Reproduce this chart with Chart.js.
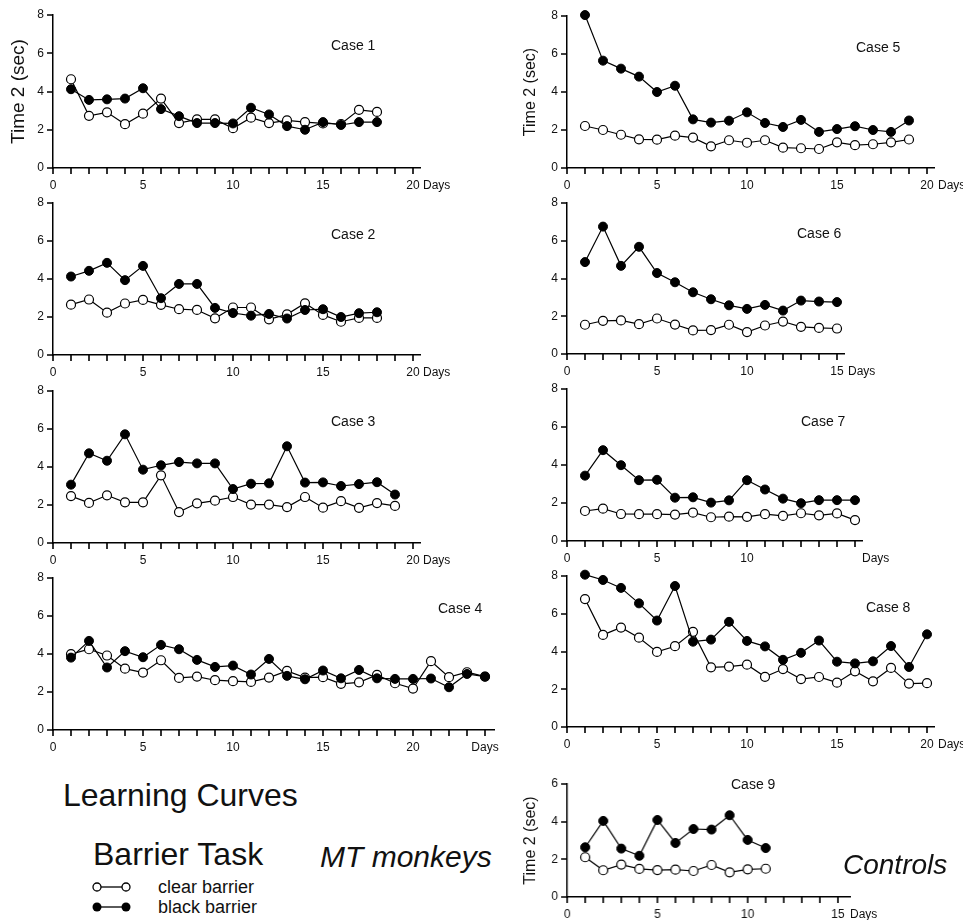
<!DOCTYPE html>
<html>
<head>
<meta charset="utf-8">
<script src="https://cdn.jsdelivr.net/npm/chart.js@4.4.0/dist/chart.umd.min.js"></script>
<style>
  body { margin: 0; background: #fff; width: 963px; height: 920px; position: relative; overflow: hidden;
         font-family: "Liberation Sans", Arial, sans-serif; color: #111; }
  .panel { position: absolute; }
  .txt { position: absolute; line-height: 1; white-space: nowrap; }
  .case { font-size: 14px; }
  .days { font-size: 12px; }
</style>
</head>
<body>

<div class="txt case" style="left:331px;top:38px">Case 1</div>
<div class="txt case" style="left:331px;top:227px">Case 2</div>
<div class="txt case" style="left:331px;top:414px">Case 3</div>
<div class="txt case" style="left:438px;top:601px">Case 4</div>
<div class="txt case" style="left:856px;top:40px">Case 5</div>
<div class="txt case" style="left:797px;top:226px">Case 6</div>
<div class="txt case" style="left:801px;top:414px">Case 7</div>
<div class="txt case" style="left:866px;top:600px">Case 8</div>
<div class="txt case" style="left:731px;top:777px">Case 9</div>

<div class="txt days" style="left:423px;top:179px">Days</div>
<div class="txt days" style="left:423px;top:366px">Days</div>
<div class="txt days" style="left:423px;top:554px">Days</div>
<div class="txt days" style="left:938px;top:179px">Days</div>
<div class="txt days" style="left:848px;top:365px">Days</div>
<div class="txt days" style="left:862px;top:552px">Days</div>
<div class="txt days" style="left:938px;top:738px">Days</div>
<div class="txt days" style="left:850px;top:908px">Days</div>

<div class="txt" style="left:63px;top:779px;font-size:32px">Learning Curves</div>
<div class="txt" style="left:93px;top:838px;font-size:32px">Barrier Task</div>
<div class="txt" style="left:320px;top:842px;font-size:30px;font-style:italic">MT monkeys</div>
<div class="txt" style="left:843px;top:851px;font-size:28px;font-style:italic">Controls</div>
<div class="txt" style="left:158px;top:878px;font-size:18px">clear barrier</div>
<div class="txt" style="left:158px;top:898px;font-size:18px">black barrier</div>

<svg style="position:absolute;left:88px;top:878px" width="46" height="38">
  <line x1="9" y1="9" x2="38" y2="9" stroke="#000" stroke-width="1.3"/>
  <circle cx="9" cy="9" r="4" fill="#fff" stroke="#000" stroke-width="1.3"/>
  <circle cx="38" cy="9" r="4" fill="#fff" stroke="#000" stroke-width="1.3"/>
  <line x1="9" y1="29" x2="38" y2="29" stroke="#000" stroke-width="1.3"/>
  <circle cx="9" cy="29" r="4.5" fill="#000"/>
  <circle cx="38" cy="29" r="4.5" fill="#000"/>
</svg>

<script>
// ── Data (Time 2 in seconds, per day) ──
var days = [1, 2, 3, 4, 5, 6, 7, 8, 9, 10, 11, 12, 13, 14, 15, 16, 17, 18, 19, 20, 21, 22, 23, 24];

var case1Clear = [4.64, 2.73, 2.91, 2.29, 2.84, 3.63, 2.35, 2.54, 2.54, 2.08, 2.63, 2.35, 2.49, 2.40, 2.33, 2.30, 3.04, 2.93];
var case1Black = [4.12, 3.56, 3.59, 3.63, 4.17, 3.08, 2.71, 2.35, 2.35, 2.33, 3.15, 2.80, 2.19, 2.00, 2.40, 2.25, 2.40, 2.40];

var case2Clear = [2.65, 2.92, 2.23, 2.71, 2.90, 2.64, 2.41, 2.37, 1.93, 2.50, 2.50, 1.88, 2.14, 2.72, 2.11, 1.75, 1.95, 1.95];
var case2Black = [4.13, 4.43, 4.85, 3.94, 4.69, 2.99, 3.74, 3.74, 2.48, 2.21, 2.07, 2.16, 1.92, 2.37, 2.41, 2.00, 2.20, 2.25];

var case3Clear = [2.47, 2.11, 2.51, 2.14, 2.14, 3.56, 1.63, 2.09, 2.23, 2.42, 2.02, 2.02, 1.89, 2.42, 1.86, 2.20, 1.85, 2.10, 1.95];
var case3Black = [3.07, 4.72, 4.33, 5.72, 3.86, 4.09, 4.26, 4.19, 4.19, 2.84, 3.12, 3.14, 5.09, 3.18, 3.19, 3.00, 3.10, 3.20, 2.55];

var case4Clear = [3.99, 4.25, 3.92, 3.23, 3.02, 3.67, 2.74, 2.81, 2.62, 2.57, 2.53, 2.76, 3.11, 2.76, 2.78, 2.43, 2.51, 2.90, 2.46, 2.18, 3.62, 2.78, 3.04, 2.81];
var case4Black = [3.81, 4.69, 3.29, 4.15, 3.83, 4.48, 4.25, 3.69, 3.32, 3.39, 2.92, 3.74, 2.85, 2.67, 3.13, 2.72, 3.16, 2.72, 2.69, 2.69, 2.71, 2.25, 2.95, 2.81];

var case5Clear = [2.21, 2.00, 1.75, 1.51, 1.49, 1.70, 1.60, 1.14, 1.46, 1.33, 1.46, 1.07, 1.04, 1.00, 1.35, 1.20, 1.25, 1.35, 1.50];
var case5Black = [8.05, 5.65, 5.23, 4.81, 4.00, 4.33, 2.56, 2.39, 2.49, 2.93, 2.37, 2.16, 2.53, 1.90, 2.05, 2.20, 2.00, 1.90, 2.50];

var case6Clear = [1.55, 1.76, 1.78, 1.58, 1.88, 1.56, 1.25, 1.27, 1.55, 1.16, 1.51, 1.72, 1.44, 1.38, 1.35];
var case6Black = [4.87, 6.75, 4.67, 5.68, 4.29, 3.80, 3.27, 2.90, 2.58, 2.39, 2.60, 2.30, 2.83, 2.78, 2.75];

var case7Clear = [1.58, 1.70, 1.42, 1.41, 1.41, 1.39, 1.49, 1.25, 1.28, 1.27, 1.41, 1.32, 1.46, 1.35, 1.45, 1.10];
var case7Black = [3.44, 4.78, 3.99, 3.20, 3.22, 2.28, 2.30, 2.02, 2.14, 3.20, 2.71, 2.23, 1.99, 2.15, 2.15, 2.15];

var case8Clear = [6.78, 4.88, 5.27, 4.73, 3.98, 4.28, 5.04, 3.16, 3.20, 3.30, 2.66, 3.07, 2.54, 2.65, 2.35, 2.95, 2.42, 3.13, 2.30, 2.32];
var case8Black = [8.07, 7.79, 7.37, 6.55, 5.64, 7.47, 4.52, 4.63, 5.57, 4.56, 4.27, 3.56, 3.93, 4.58, 3.46, 3.37, 3.48, 4.29, 3.18, 4.91];

var case9Clear = [2.11, 1.42, 1.72, 1.49, 1.43, 1.45, 1.38, 1.70, 1.31, 1.47, 1.50];
var case9Black = [2.64, 4.04, 2.57, 2.19, 4.09, 2.87, 3.61, 3.58, 4.34, 3.03, 2.60];

var yTitle = 'Time 2 (sec)';

// ── Layout ──
var FONT = '"Liberation Sans", Arial, sans-serif';
var AXIS_W = 50, PAD_TOP = 17, PAD_RIGHT = 30, X_H = 30, PX_DAY = 18, TICK_LEN = 6;

function _pts(vals) {
  return vals.map(function(v, i) { return { x: days[i], y: v }; });
}

// outward tick marks at every tick the scales generate
var tickMarks = {
  id: 'tickMarks',
  afterDraw: function(chart) {
    var ctx = chart.ctx, xs = chart.scales.x, ys = chart.scales.y;
    var bottom = chart.chartArea.bottom, left = chart.chartArea.left;
    ctx.save();
    ctx.strokeStyle = '#000';
    ctx.lineWidth = 1.6;
    ctx.beginPath();
    for (var i = 0; i < xs.ticks.length; i++) {
      var px = Math.round(xs.getPixelForValue(xs.ticks[i].value));
      ctx.moveTo(px, bottom);
      ctx.lineTo(px, bottom + TICK_LEN);
    }
    for (var j = 0; j < ys.ticks.length; j++) {
      var py = Math.round(ys.getPixelForValue(ys.ticks[j].value));
      ctx.moveTo(left - TICK_LEN, py);
      ctx.lineTo(left, py);
    }
    ctx.stroke();
    ctx.restore();
  }
};

function makePanel(cfg) {
  var plotW = cfg.xMax * PX_DAY;
  var plotH = cfg.yBottom - cfg.yTop;
  var wrap = document.createElement('div');
  wrap.className = 'panel';
  wrap.style.left = (cfg.x0 - AXIS_W) + 'px';
  wrap.style.top = (cfg.yTop - PAD_TOP) + 'px';
  wrap.style.width = (AXIS_W + plotW + PAD_RIGHT) + 'px';
  wrap.style.height = (PAD_TOP + plotH + X_H) + 'px';
  var canvas = document.createElement('canvas');
  wrap.appendChild(canvas);
  document.body.insertBefore(wrap, document.body.firstChild);

  new Chart(canvas, {
    type: 'line',
    data: {
      datasets: [
        { data: _pts(cfg.black), borderColor: '#000', borderWidth: 1.2, pointRadius: 4.5,
          pointBackgroundColor: '#000', pointBorderColor: '#000', pointBorderWidth: 1, clip: false, order: 0 },
        { data: _pts(cfg.clear), borderColor: '#000', borderWidth: 1.2, pointRadius: 4.5,
          pointBackgroundColor: '#fff', pointBorderColor: '#000', pointBorderWidth: 1.2, clip: false, order: 1 }
      ]
    },
    plugins: [tickMarks],
    options: {
      responsive: true,
      maintainAspectRatio: false,
      animation: false,
      layout: { padding: { top: PAD_TOP, right: PAD_RIGHT, left: 0, bottom: 0 } },
      plugins: { legend: { display: false }, tooltip: { enabled: false } },
      scales: {
        x: {
          type: 'linear', min: 0, max: cfg.xMax,
          afterFit: function(s) { s.height = X_H; },
          border: { display: true, color: '#000', width: 1.5 },
          grid: { display: false, drawTicks: false },
          ticks: {
            stepSize: 1, includeBounds: false, autoSkip: false, maxRotation: 0, padding: 10,
            color: '#111', font: { size: 12, family: FONT },
            callback: function(v) {
              if (cfg.endTick && v === cfg.endTick) return 'Days';
              if (cfg.hide && cfg.hide.indexOf(v) >= 0) return ' ';
              return v % 5 === 0 ? String(v) : ' ';
            }
          }
        },
        y: {
          min: 0, max: cfg.yMax,
          afterFit: function(s) { s.width = AXIS_W; },
          border: { display: true, color: '#000', width: 1.5 },
          grid: { display: false, drawTicks: false },
          ticks: { stepSize: 2, padding: 9, color: '#111', font: { size: 12, family: FONT } },
          title: {
            display: !!cfg.titleSize, text: yTitle, color: '#111',
            font: { size: cfg.titleSize || 16, family: FONT }, padding: { top: 4, bottom: 0 }
          }
        }
      }
    }
  });
}

// left column (MT monkeys)
makePanel({ x0: 53, yTop: 15, yBottom: 168, yMax: 8, xMax: 20.4, clear: case1Clear, black: case1Black, titleSize: 19 });
makePanel({ x0: 53, yTop: 203, yBottom: 355, yMax: 8, xMax: 20.4, clear: case2Clear, black: case2Black });
makePanel({ x0: 53, yTop: 391, yBottom: 543, yMax: 8, xMax: 20.4, clear: case3Clear, black: case3Black });
makePanel({ x0: 53, yTop: 578, yBottom: 730, yMax: 8, xMax: 24.5, clear: case4Clear, black: case4Black, endTick: 24 });

// right column (Controls)
makePanel({ x0: 567, yTop: 16, yBottom: 168, yMax: 8, xMax: 20.4, clear: case5Clear, black: case5Black, titleSize: 16 });
makePanel({ x0: 567, yTop: 203, yBottom: 354, yMax: 8, xMax: 15.4, clear: case6Clear, black: case6Black });
makePanel({ x0: 567, yTop: 389, yBottom: 541, yMax: 8, xMax: 16.4, clear: case7Clear, black: case7Black, hide: [15] });
makePanel({ x0: 567, yTop: 576, yBottom: 727, yMax: 8, xMax: 20.4, clear: case8Clear, black: case8Black });
makePanel({ x0: 567, yTop: 784, yBottom: 897, yMax: 6, xMax: 15.7, clear: case9Clear, black: case9Black, titleSize: 16 });
</script>
</body>
</html>
